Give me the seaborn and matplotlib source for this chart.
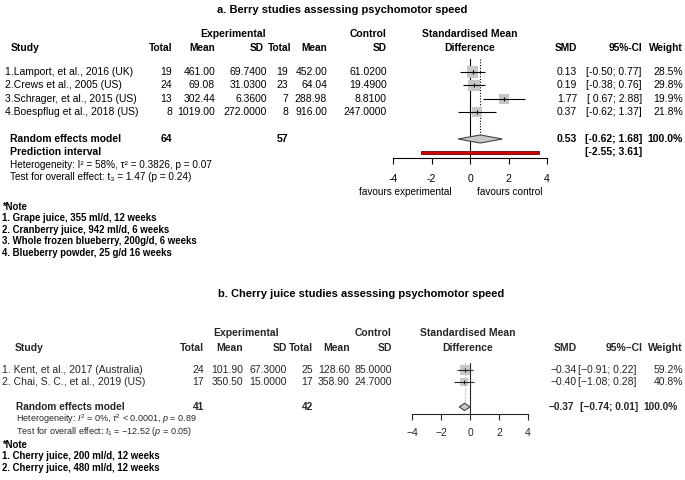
import numpy as np
import matplotlib
matplotlib.use("Agg")
import matplotlib.pyplot as plt
import seaborn as sns

W, H = 685, 480

# ---------------- panel a : berry studies ----------------
studies_a = ["1.Lamport, et al., 2016 (UK)", "2.Crews et al., 2005 (US)",
             "3.Schrager, et al., 2015 (US)", "4.Boespflug et al., 2018 (US)"]
n_exp_a = [19, 24, 13, 8]
mean_exp_a = [461.00, 69.08, 302.44, 1019.00]
sd_exp_a = [69.74, 31.03, 6.36, 272.0]
n_ctl_a = [19, 23, 7, 8]
mean_ctl_a = [452.00, 64.04, 288.98, 916.00]
sd_ctl_a = [61.02, 19.49, 8.81, 247.0]
smd_a = [0.13, 0.19, 1.77, 0.37]
lo_a = [-0.50, -0.38, 0.67, -0.62]
hi_a = [0.77, 0.76, 2.88, 1.37]
weight_a = [28.5, 29.8, 19.9, 21.8]
pooled_a = [0.53, -0.62, 1.68]
pred_a = [-2.55, 3.61]
totals_a = [64, 57]
het_a = "Heterogeneity: I² = 58%, τ² = 0.3826, p = 0.07"
test_a = "Test for overall effect: t₃ = 1.47 (p = 0.24)"
notes_a = ["*Note", "1. Grape juice, 355 ml/d, 12 weeks", "2. Cranberry juice, 942 ml/d, 6 weeks",
           "3. Whole frozen blueberry, 200g/d, 6 weeks", "4. Blueberry powder, 25 g/d 16 weeks"]

# ---------------- panel b : cherry juice studies ----------------
studies_b = ["1. Kent, et al., 2017 (Australia)", "2. Chai, S. C., et al., 2019 (US)"]
n_exp_b = [24, 17]
mean_exp_b = [101.90, 350.50]
sd_exp_b = [67.30, 15.00]
n_ctl_b = [25, 17]
mean_ctl_b = [128.60, 358.90]
sd_ctl_b = [85.00, 24.70]
smd_b = [-0.34, -0.40]
lo_b = [-0.91, -1.08]
hi_b = [0.22, 0.28]
weight_b = [59.2, 40.8]
pooled_b = [-0.37, -0.74, 0.01]
totals_b = [41, 42]
het_b = r"Heterogeneity: $I^2$ = 0%, $\tau^2$ < 0.0001, $p$ = 0.89"
test_b = "Test for overall effect: $t_1$ = \u221212.52 ($p$ = 0.05)"
notes_b = ["*Note", "1. Cherry juice, 200 ml/d, 12 weeks", "2. Cherry juice, 480 ml/d, 12 weeks"]

ticks = [-4, -2, 0, 2, 4]
ticklabels_a = ["-4", "-2", "0", "2", "4"]
ticklabels_b = ["\u22124", "\u22122", "0", "2", "4"]

sns.set_theme(style="white")
plt.rcParams["font.family"] = ["Liberation Sans", "DejaVu Sans"]
plt.rcParams["mathtext.fontset"] = "custom"
plt.rcParams["mathtext.rm"] = "Liberation Sans"
plt.rcParams["mathtext.it"] = "Liberation Sans:italic"
plt.rcParams["mathtext.bf"] = "Liberation Sans:bold"

fig = plt.figure(figsize=(W / 100, H / 100), dpi=100)


def txt(x, y, s, ha="left", bold=False, size=7.5, color="black"):
    fig.text(x / W, 1 - y / H, s, ha=ha, va="center", fontsize=size,
             fontweight="bold" if bold else "normal", color=color)


def fmt_ci(lo, hi, minus="-"):
    s = f"[{lo:5.2f}; {hi:.2f}]"
    return s.replace("-", minus)


def forest(xl, xr, row0, dy, top, bottom, smd, lo, hi, w, pooled, re_row, smax,
           ticklabels, dot_col, col, pred=None, pred_row=None, pad=7):
    y_top = row0 + dy * top
    y_bot = row0 + dy * bottom
    ax = fig.add_axes([xl / W, 1 - y_bot / H, (xr - xl) / W, (y_bot - y_top) / H])
    ax.set_xlim(-4, 4)
    ax.set_ylim(bottom, top)
    ax.patch.set_alpha(0)
    rows = np.arange(len(smd))

    ax.axvline(0, color=col, lw=0.8, zorder=1)
    ax.vlines(pooled[0], top, re_row - 0.3, colors=dot_col, linestyles=(0, (1, 1.5)), lw=0.8, zorder=1)

    # square area proportional to study weight
    areas = [smax * v / max(w) for v in w]
    sns.scatterplot(x=smd, y=rows, s=areas, marker="s", color="#c8c8c8", linewidth=0,
                    legend=False, ax=ax, zorder=2, clip_on=False)
    ax.hlines(rows, lo, hi, colors=col, lw=0.8, zorder=3, clip_on=False)
    ax.plot(smd, rows, ls="none", marker="|", ms=3.5, mew=0.8, color=col, zorder=4, clip_on=False)

    est, plo, phi = pooled
    ax.fill([plo, est, phi, est], [re_row, re_row - 0.3, re_row, re_row + 0.3],
            facecolor="#c8c8c8", edgecolor="#444444", lw=0.8, zorder=3, clip_on=False)
    if pred is not None:
        ax.barh(pred_row, pred[1] - pred[0], left=pred[0], height=0.28, color="#cc0000",
                edgecolor="#7a0000", lw=0.6, zorder=3, clip_on=False)

    for s in ["top", "left", "right"]:
        ax.spines[s].set_visible(False)
    ax.spines["bottom"].set_color(col)
    ax.spines["bottom"].set_linewidth(0.8)
    ax.set_yticks([])
    ax.set_xticks(ticks, ticklabels)
    ax.tick_params(axis="x", direction="out", length=4, width=0.8, colors=col,
                   labelsize=7.5, pad=pad, bottom=True)
    ax.set_xlabel("")
    ax.set_ylabel("")
    return ax


# ================= panel a =================
row0_a, dy_a = 72, 13.4
txt(342, 10, "a. Berry studies assessing psychomotor speed", ha="center", bold=True, size=8)
txt(233, 34, "Experimental", ha="center", bold=True)
txt(387, 34, "Control", ha="right", bold=True)
txt(470, 34, "Standardised Mean", ha="center", bold=True)
txt(470, 48, "Difference", ha="center", bold=True)
txt(11, 48, "Study", bold=True)
cols_a = [172, 215, 267, 288, 327, 387, 577, 642, 683]
head_x_a = [172, 215, 264, 291, 327, 387, 577, 642, 683]
for x, h in zip(head_x_a, ["Total", "Mean", "SD", "Total", "Mean", "SD", "SMD", "95%-CI", "Weight"]):
    txt(x, 48, h, ha="right", bold=True, size=7.3)

for i in range(len(studies_a)):
    y = row0_a + dy_a * i
    txt(5, y, studies_a[i])
    cells = [f"{n_exp_a[i]}", f"{mean_exp_a[i]:.2f}", f"{sd_exp_a[i]:.4f}",
             f"{n_ctl_a[i]}", f"{mean_ctl_a[i]:.2f}", f"{sd_ctl_a[i]:.4f}",
             f"{smd_a[i]:.2f}", fmt_ci(lo_a[i], hi_a[i]), f"{weight_a[i]:.1f}%"]
    for x, c in zip(cols_a, cells):
        txt(x, y, c, ha="right")

y_re = row0_a + dy_a * 5
txt(10, y_re, "Random effects model", bold=True)
txt(cols_a[0], y_re, f"{totals_a[0]}", ha="right", bold=True)
txt(cols_a[3], y_re, f"{totals_a[1]}", ha="right", bold=True)
txt(cols_a[6], y_re, f"{pooled_a[0]:.2f}", ha="right", bold=True)
txt(cols_a[7], y_re, fmt_ci(pooled_a[1], pooled_a[2]), ha="right", bold=True)
txt(cols_a[8], y_re, "100.0%", ha="right", bold=True)
y_pi = row0_a + dy_a * 6
txt(10, y_pi, "Prediction interval", bold=True)
txt(cols_a[7], y_pi, fmt_ci(pred_a[0], pred_a[1]), ha="right", bold=True)
txt(10, 165, het_a, size=7.2)
txt(10, 177, test_a, size=7.2)
txt(452, 192, "favours experimental", ha="right", size=7.2)
txt(477, 192, "favours control", ha="left", size=7.2)
for k, s in enumerate(notes_a):
    txt(2, 207 + 11.4 * k, s, bold=True, size=6.9)

forest(393, 547, row0_a, dy_a, -1.0, 6.45, smd_a, lo_a, hi_a, weight_a, pooled_a, 5, 72,
       ticklabels_a, "black", "black", pred=pred_a, pred_row=6, pad=7)

# ================= panel b =================
gray = "#262626"
row0_b, dy_b = 370, 12.3
txt(361, 294, "b. Cherry juice studies assessing psychomotor speed", ha="center", bold=True, size=8)
txt(246, 333, "Experimental", ha="center", bold=True, color=gray)
txt(392, 333, "Control", ha="right", bold=True, color=gray)
txt(468, 333, "Standardised Mean", ha="center", bold=True, color=gray)
txt(468, 348, "Difference", ha="center", bold=True, color=gray)
txt(15, 348, "Study", bold=True, color=gray)
cols_b = [204, 243, 287, 313, 350, 392, 577, 636, 683]
heads_b = ["Total", "Mean", "SD", "Total", "Mean", "SD", "SMD", "95%\u2013CI", "Weight"]
for j, (x, h) in enumerate(zip(cols_b, heads_b)):
    txt(642 if j == 7 else x, 348, h, ha="right", bold=True, color=gray)

for i in range(len(studies_b)):
    y = row0_b + dy_b * i
    txt(2, y, studies_b[i], color=gray)
    cells = [f"{n_exp_b[i]}", f"{mean_exp_b[i]:.2f}", f"{sd_exp_b[i]:.4f}",
             f"{n_ctl_b[i]}", f"{mean_ctl_b[i]:.2f}", f"{sd_ctl_b[i]:.4f}",
             f"{smd_b[i]:.2f}".replace("-", "\u2212"), fmt_ci(lo_b[i], hi_b[i], "\u2212"),
             f"{weight_b[i]:.1f}%"]
    for x, c in zip(cols_b, cells):
        txt(x, y, c, ha="right", color=gray)

y_re = row0_b + dy_b * 3
txt(16, y_re, "Random effects model", bold=True, size=7.3, color=gray)
txt(cols_b[0], y_re, f"{totals_b[0]}", ha="right", bold=True, size=7.3, color=gray)
txt(cols_b[3], y_re, f"{totals_b[1]}", ha="right", bold=True, size=7.3, color=gray)
txt(574, y_re, f"{pooled_b[0]:.2f}".replace("-", "\u2212"), ha="right", bold=True, size=7.3, color=gray)
txt(638, y_re, fmt_ci(pooled_b[1], pooled_b[2], "\u2212"), ha="right", bold=True, size=7.3, color=gray)
txt(678, y_re, "100.0%", ha="right", bold=True, size=7.3, color=gray)
txt(16, 419.5, het_b, size=6.5, color=gray)
txt(16, 432, test_b, size=6.5, color=gray)
for k, s in enumerate(notes_b):
    txt(2, 445 + 11.3 * k, s, bold=True, size=6.9)

forest(412, 528, row0_b, dy_b, -0.55, 3.6, smd_b, lo_b, hi_b, weight_b, pooled_b, 3, 50,
       ticklabels_b, "#aaaaaa", gray, pad=6)

fig.savefig("out.png", dpi=100)
